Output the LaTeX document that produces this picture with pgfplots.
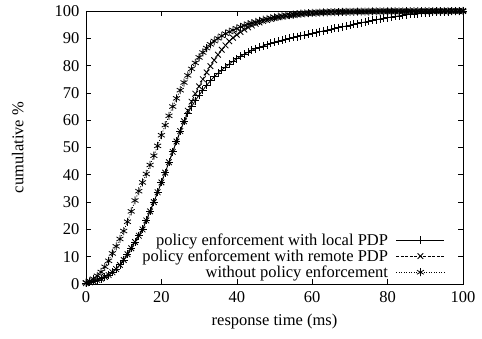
\documentclass[border=0pt]{standalone}
\usepackage{fontspec}
\setmainfont{Liberation Serif}
\usepackage{pgfplots}
\usepackage{pgfplotstable}
\pgfplotsset{compat=1.18}
\pgfplotstableread{
x y
0 0.3
1 0.6
2 1.0
3 1.5
4 2.0
5 2.6
6 3.3
7 4.3
8 5.5
9 7.0
10 8.8
11 10.9
12 13.1
13 15.4
14 17.7
15 20.0
16 23.3
17 26.6
18 30.0
19 33.6
20 37.2
21 40.8
22 44.6
23 48.4
24 52.2
25 56.0
26 59.6
27 62.5
28 65.0
29 67.2
30 69.2
31 71.0
32 72.8
33 74.4
34 75.9
35 77.2
36 78.4
37 79.5
38 80.6
39 81.6
40 82.5
41 83.4
42 84.2
43 84.9
44 85.6
45 86.2
46 86.7
47 87.2
48 87.7
49 88.2
50 88.6
51 89.0
52 89.3
53 89.7
54 90.0
55 90.3
56 90.6
57 90.9
58 91.2
59 91.5
60 91.8
61 92.1
62 92.4
63 92.7
64 93.0
65 93.3
66 93.6
67 93.9
68 94.2
69 94.5
70 94.8
71 95.1
72 95.4
73 95.7
74 96.0
75 96.3
76 96.55
77 96.8
78 97.1
79 97.35
80 97.6
81 97.8
82 98.0
83 98.2
84 98.4
85 98.6
86 98.75
87 98.9
88 99.05
89 99.2
90 99.3
91 99.4
92 99.5
93 99.6
94 99.7
95 99.75
96 99.8
97 99.85
98 99.9
99 99.95
100 100
}\local
\pgfplotstableread{
x y
0 0.3
1 0.6
2 1.0
3 1.5
4 2.0
5 2.6
6 3.3
7 4.3
8 5.5
9 7.0
10 8.8
11 10.9
12 13.1
13 15.4
14 17.7
15 20.0
16 23.3
17 26.6
18 30.0
19 33.6
20 37.2
21 40.8
22 44.6
23 48.4
24 52.2
25 56.0
26 59.6
27 63.5
28 66.8
29 69.7
30 72.4
31 75.0
32 77.5
33 79.8
34 82.0
35 84.0
36 85.8
37 87.4
38 88.9
39 90.2
40 91.3
41 92.3
42 93.2
43 94.0
44 94.7
45 95.3
46 95.8
47 96.3
48 96.7
49 97.1
50 97.4
51 97.7
52 98.0
53 98.2
54 98.4
55 98.6
56 98.8
57 98.95
58 99.1
59 99.2
60 99.3
61 99.38
62 99.45
63 99.5
64 99.55
65 99.6
66 99.64
67 99.68
68 99.72
69 99.76
70 99.8
71 99.81
72 99.82
73 99.83
74 99.84
75 99.85
76 99.86
77 99.87
78 99.88
79 99.89
80 99.9
81 99.9
82 99.91
83 99.91
84 99.92
85 99.92
86 99.93
87 99.93
88 99.94
89 99.94
90 99.95
91 99.95
92 99.96
93 99.96
94 99.97
95 99.97
96 99.98
97 99.98
98 99.99
99 99.99
100 100
}\remote
\pgfplotstableread{
x y
0 0.5
1 1.1
2 1.9
3 3.0
4 4.4
5 6.3
6 8.5
7 11.2
8 13.8
9 16.5
10 19.4
11 22.8
12 26.6
13 30.6
14 34.0
15 37.2
16 40.3
17 43.6
18 47.0
19 50.6
20 54.5
21 58.2
22 61.6
23 65.0
24 68.0
25 71.0
26 73.8
27 76.4
28 78.8
29 81.0
30 83.0
31 84.8
32 86.4
33 87.8
34 89.0
35 90.0
36 90.9
37 91.7
38 92.4
39 93.0
40 93.6
41 94.2
42 94.7
43 95.2
44 95.6
45 96.0
46 96.4
47 96.8
48 97.1
49 97.4
50 97.7
51 97.9
52 98.1
53 98.3
54 98.5
55 98.7
56 98.85
57 99.0
58 99.1
59 99.2
60 99.3
61 99.35
62 99.4
63 99.45
64 99.5
65 99.55
66 99.6
67 99.62
68 99.65
69 99.68
70 99.7
71 99.72
72 99.74
73 99.76
74 99.78
75 99.8
76 99.82
77 99.84
78 99.85
79 99.86
80 99.87
81 99.88
82 99.89
83 99.9
84 99.9
85 99.91
86 99.92
87 99.92
88 99.93
89 99.94
90 99.94
91 99.95
92 99.95
93 99.96
94 99.96
95 99.97
96 99.97
97 99.98
98 99.98
99 99.99
100 100
}\without
\begin{document}
\begin{tikzpicture}[font=\fontsize{16.5bp}{18bp}\selectfont]
\begin{axis}[
  scale only axis, width=377bp, height=273bp,
  xmin=0, xmax=100, ymin=0, ymax=100,
  xtick={0,20,...,100}, ytick={0,10,...,100},
  tick align=inside, major tick length=5bp,
  axis line style={line width=0.8bp}, tick style={line width=0.6bp, black},
  /pgf/number format/assume math mode=true,
  tick label style={font=\fontsize{16.5bp}{18bp}\selectfont},
  xticklabel style={yshift=-4bp},
  yticklabel style={xshift=-3bp},
  xlabel={response time (ms)}, ylabel={cumulative \%},
  every axis x label/.style={at={(axis description cs:0.5,-0.097)}, anchor=north},
  every axis y label/.style={at={(axis description cs:-0.156,0.5)}, rotate=90, anchor=south},
  clip=false,
  legend style={draw=none, fill=none, at={(1,0)}, anchor=south east, xshift=-18bp, yshift=4bp,
    font=\fontsize{16.5bp}{18bp}\selectfont, row sep=1bp, inner sep=0pt,
    nodes={inner sep=1bp}},
  legend cell align=right,
  legend plot pos=right,
  legend image code/.code={\draw[mark repeat=2,mark phase=2,#1] plot coordinates {(0bp,0bp) (24bp,0bp) (48bp,0bp)};},
  every axis plot/.append style={black, line width=0.8bp, mark size=4bp},
]
\addplot[solid, mark=+, mark options={solid}] table[x=x,y=y] {\local};
\addlegendentry{policy enforcement with local PDP\hspace*{7bp}}
\addplot[dash pattern=on 3bp off 1.5bp, mark=x, mark options={solid}] table[x=x,y=y] {\remote};
\addlegendentry{policy enforcement with remote PDP\hspace*{7bp}}
\addplot[dash pattern=on 1bp off 1.5bp, mark=asterisk, mark options={solid}] table[x=x,y=y] {\without};
\addlegendentry{without policy enforcement\hspace*{7bp}}
\end{axis}
\pgfresetboundingbox
\path ([shift={(-86bp,-55bp)}]current axis.south west) rectangle ([shift={(19bp,11bp)}]current axis.north east);
\end{tikzpicture}
\end{document}
